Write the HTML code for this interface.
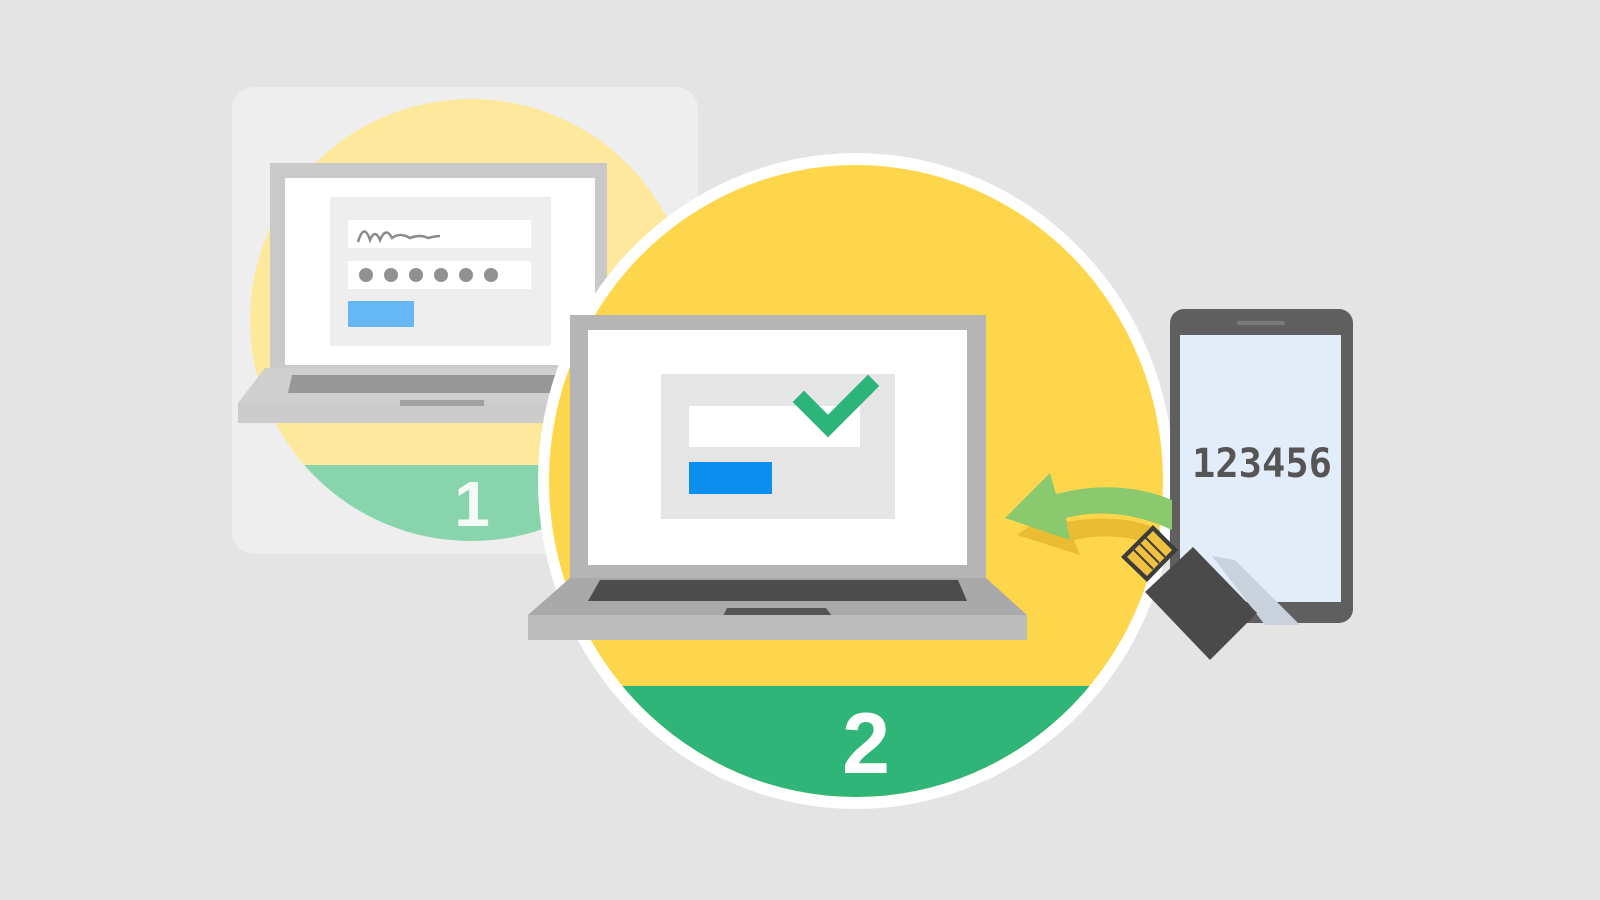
<!DOCTYPE html>
<html><head><meta charset="utf-8"><style>
html,body{margin:0;padding:0;background:#e4e4e4;}
svg{display:block}
</style></head><body>
<svg width="1600" height="900" viewBox="0 0 1600 900" xmlns="http://www.w3.org/2000/svg">
<rect width="1600" height="900" fill="#e4e4e4"/>
<defs>
<clipPath id="c1"><circle cx="471" cy="320" r="221"/></clipPath>
<clipPath id="c2"><ellipse cx="856" cy="481" rx="307" ry="316"/></clipPath>
</defs>
<!-- panel 1 -->
<rect x="232" y="87" width="466" height="467" rx="22" fill="#eeeeee"/>
<g clip-path="url(#c1)">
<rect x="240" y="90" width="470" height="460" fill="#fde89c"/>
<rect x="240" y="465" width="470" height="90" fill="#88d4ac"/>
</g>
<text x="472" y="526" font-family="Liberation Sans, sans-serif" font-weight="bold" font-size="64" fill="#f4fbf6" text-anchor="middle">1</text>
<!-- laptop 1 -->
<rect x="270" y="163" width="337" height="205" fill="#c9c9c9"/>
<rect x="285" y="178" width="310" height="187" fill="#ffffff"/>
<rect x="330" y="197" width="221" height="149" fill="#eeeeee"/>
<rect x="348" y="220" width="183" height="28" fill="#ffffff"/>
<path d="M358,242 Q364,222 370,240 Q375,228 380,240 Q386,226 392,238 Q400,232 410,238 Q420,234 428,238 Q436,236 440,236" stroke="#8a8a8a" stroke-width="2.5" fill="none"/>
<rect x="348" y="261" width="183" height="28" fill="#ffffff"/>
<g fill="#919191"><circle cx="366" cy="275" r="7"/><circle cx="391" cy="275" r="7"/><circle cx="416" cy="275" r="7"/><circle cx="441" cy="275" r="7"/><circle cx="466" cy="275" r="7"/><circle cx="491" cy="275" r="7"/></g>
<rect x="348" y="301" width="66" height="26" fill="#66b7f5"/>
<polygon points="265,368 610,368 620,403 238,403" fill="#cfcfcf"/>
<polygon points="292,375 555,375 550,393 288,393" fill="#979797"/>
<rect x="238" y="403" width="382" height="20" fill="#cccccc"/>
<rect x="400" y="400" width="84" height="6" fill="#a0a0a0"/>
<!-- big circle -->
<ellipse cx="856" cy="481" rx="318" ry="328" fill="#ffffff"/>
<g clip-path="url(#c2)">
<rect x="530" y="150" width="660" height="670" fill="#fed64c"/>
<rect x="530" y="686" width="660" height="140" fill="#2fb577"/>
</g>
<text x="866" y="773" font-family="Liberation Sans, sans-serif" font-weight="bold" font-size="86" fill="#ffffff" text-anchor="middle">2</text>
<!-- laptop 2 -->
<rect x="570" y="315" width="416" height="265" fill="#b5b5b5"/>
<rect x="588" y="330" width="379" height="235" fill="#ffffff"/>
<rect x="661" y="374" width="234" height="145" fill="#e5e5e5"/>
<rect x="689" y="406" width="171" height="41" fill="#ffffff"/>
<rect x="689" y="462" width="83" height="32" fill="#0a8ff0"/>
<polyline points="804,402 828,426 868,386" fill="none" stroke="#2db47a" stroke-width="16" stroke-linecap="square"/>
<polygon points="570,578 986,578 1027,615 528,615" fill="#a9a9a9"/>
<polygon points="600,580 958,580 967,601 588,601" fill="#4c4c4c"/>
<polygon points="727,608 826,608 832,616 723,616" fill="#555555"/>
<rect x="528" y="615" width="499" height="25" fill="#bcbcbc"/>
<!-- phone -->
<rect x="1170" y="309" width="183" height="314" rx="14" fill="#5f5f5f"/>
<rect x="1180" y="335" width="161" height="267" fill="#e3edf9"/>
<rect x="1237" y="321" width="48" height="4" rx="2" fill="#7a7a7a"/>
<text x="1262" y="477" font-family="DejaVu Sans Mono, Liberation Mono, monospace" font-weight="bold" font-size="40" fill="#555555" text-anchor="middle" textLength="140" lengthAdjust="spacingAndGlyphs">123456</text>
<!-- arrow shadow -->
<path d="M1017,535 L1060,505 L1066,522 Q1120,512 1160,530 L1160,548 Q1120,530 1074,540 L1080,555 Z" fill="#e9bc33"/>
<!-- arrow -->
<path d="M1005,518 L1050,473 L1056,494 Q1118,478 1172,500 L1172,530 Q1118,505 1066,518 L1070,540 Z" fill="#8bc96e"/>
<!-- usb shadow on phone -->
<polygon points="1212,556 1235,560 1300,625 1265,625" fill="#c9d2dc"/>
<!-- usb -->
<polygon points="1145,592 1193,547 1257,613 1210,660" fill="#4a4a4a"/>
<polygon points="1121,557 1153,525 1178,550 1147,582" fill="#3c3c3c"/>
<polygon points="1127,557 1153,531 1172,550 1147,576" fill="#f0c040"/>
<g stroke="#3c3c3c" stroke-width="2"><line x1="1134" y1="550" x2="1153" y2="569"/><line x1="1140" y1="544" x2="1159" y2="563"/><line x1="1146" y1="538" x2="1165" y2="557"/></g>
</svg>
</body></html>
